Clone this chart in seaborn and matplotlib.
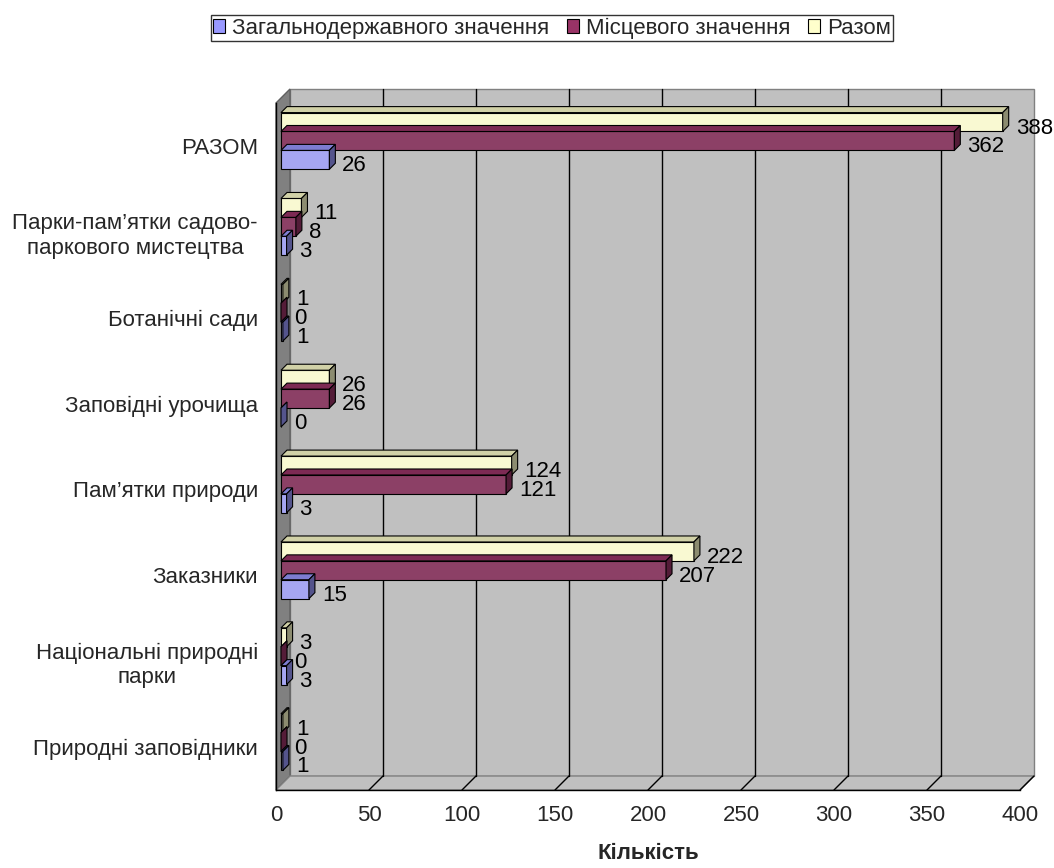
import numpy as np
import pandas as pd
import matplotlib
matplotlib.use("Agg")
import matplotlib.pyplot as plt
import seaborn as sns
from matplotlib.patches import Polygon, Patch
from matplotlib.transforms import IdentityTransform, ScaledTranslation
from matplotlib.ticker import FixedLocator

# ---------------- data ----------------
categories = [
    "РАЗОМ",
    "Парки-пам’ятки садово-\nпаркового мистецтва",
    "Ботанічні сади",
    "Заповідні урочища",
    "Пам’ятки природи",
    "Заказники",
    "Національні природні\nпарки",
    "Природні заповідники",
]
zagalnoderzh = [26, 3, 1, 0, 3, 15, 3, 1]
mistsevogo = [362, 8, 0, 26, 121, 207, 0, 0]
razom = [388, 11, 1, 26, 124, 222, 3, 1]

series_names = ["Загальнодержавного значення", "Місцевого значення", "Разом"]
series_values = [zagalnoderzh, mistsevogo, razom]
series_colors = ["#9999FF", "#993366", "#FFFFCC"]
x_ticks = [0, 50, 100, 150, 200, 250, 300, 350, 400]
x_label = "Кількість"

rows = []
for name, vals in zip(series_names, series_values):
    for c, v in zip(categories, vals):
        rows.append({"cat": c, "series": name, "value": v})
df = pd.DataFrame(rows)

# ---------------- style ----------------
sns.set_style("white")
plt.rcParams["font.family"] = ["Liberation Sans", "DejaVu Sans"]
FS = 16

W, H = 1054, 868
fig = plt.figure(figsize=(W / 100, H / 100), dpi=100)
fig.patch.set_facecolor("white")

# front plane in pixels
FX0, FX1 = 276, 1020
FY_TOP, FY_BOT = 103, 790
ax = fig.add_axes([FX0 / W, (H - FY_BOT) / H, (FX1 - FX0) / W, (FY_BOT - FY_TOP) / H])
ax.patch.set_visible(False)

hue_order = ["Разом", "Місцевого значення", "Загальнодержавного значення"]
pal = dict(zip(series_names, series_colors))
sns.barplot(data=df, y="cat", x="value", hue="series", hue_order=hue_order,
            order=categories, palette=pal, orient="h", width=0.66,
            edgecolor="black", linewidth=0.8, ax=ax, legend=False, zorder=3)

ax.set_xlim(0, 400)
ax.set_ylim(len(categories) - 0.5, -0.5)

DX, DY = 14, 14       # wall depth in px
BD = 6                # bar depth in px
OFF = 5               # bars sit a bit behind the front plane (px)
ident = IdentityTransform()

def P(x, y, d=0.0):
    X, Y = ax.transData.transform((x, y))
    return (X + d * DX, Y + d * DY)

ylo, yhi = len(categories) - 0.5, -0.5
# back wall
back = Polygon([P(0, ylo, 1), P(400, ylo, 1), P(400, yhi, 1), P(0, yhi, 1)],
               closed=True, facecolor="#C0C0C0", edgecolor="#808080", lw=1,
               transform=ident, zorder=0, clip_on=False)
ax.add_patch(back)
# left wall
left = Polygon([P(0, ylo, 0), P(0, yhi, 0), P(0, yhi, 1), P(0, ylo, 1)],
               closed=True, facecolor="#808080", edgecolor="#606060", lw=1,
               transform=ident, zorder=0.5, clip_on=False)
ax.add_patch(left)
# floor
floor = Polygon([P(0, ylo, 0), P(400, ylo, 0), P(400, ylo, 1), P(0, ylo, 1)],
                closed=True, facecolor="#C0C0C0", edgecolor="#808080", lw=1,
                transform=ident, zorder=0.5, clip_on=False)
ax.add_patch(floor)
# gridlines on back wall + floor diagonals
for t in x_ticks:
    if 0 < t < 400:
        a, b = P(t, ylo, 1), P(t, yhi, 1)
        ax.plot([a[0], b[0]], [a[1], b[1]], color="black", lw=1, transform=ident,
                zorder=0.6, clip_on=False)
    if t > 0:
        a, b = P(t, ylo, 0), P(t, ylo, 1)
        ax.plot([a[0], b[0]], [a[1], b[1]], color="black", lw=1, transform=ident,
                zorder=0.6, clip_on=False)

def shade(hexc, f):
    r, g, b = matplotlib.colors.to_rgb(hexc)
    return (r * f, g * f, b * f)

bar_tr = ax.transData + ScaledTranslation(OFF / 100, OFF / 100, fig.dpi_scale_trans)

# 3D faces of bars + labels
for cont, name in zip(ax.containers, hue_order):
    vals = series_values[series_names.index(name)]
    col = pal[name]
    for rect, v in zip(cont.patches, vals):
        rect.set_transform(bar_tr)
        x0, y0 = rect.get_x(), rect.get_y()
        w, h = rect.get_width(), rect.get_height()
        ytop, ybot = y0, y0 + h
        x1 = x0 + w
        def Q(x, y, d=0):
            X, Y = ax.transData.transform((x, y))
            return (X + OFF + d * BD, Y + OFF + d * BD)
        top = Polygon([Q(x0, ytop), Q(x1, ytop), Q(x1, ytop, 1), Q(x0, ytop, 1)],
                      closed=True, facecolor=shade(col, 0.82), edgecolor="black",
                      lw=0.8, transform=ident, zorder=3.5, clip_on=False)
        side = Polygon([Q(x1, ytop), Q(x1, ybot), Q(x1, ybot, 1), Q(x1, ytop, 1)],
                       closed=True, facecolor=shade(col, 0.55), edgecolor="black",
                       lw=0.8, transform=ident, zorder=3.5, clip_on=False)
        ax.add_patch(top)
        ax.add_patch(side)
        ax.annotate(str(v), xy=(x1, y0 + h / 2),
                    xytext=((OFF + BD + 7) * 0.72, (OFF - 6) * 0.72),
                    textcoords="offset points", ha="left", va="center",
                    fontsize=FS, color="black", zorder=5, annotation_clip=False)

# axes, ticks
for s in ["top", "right"]:
    ax.spines[s].set_visible(False)
for s in ["left", "bottom"]:
    ax.spines[s].set_color("black")
    ax.spines[s].set_linewidth(1)
    ax.spines[s].set_zorder(1)

ax.set_xticks(x_ticks)
ax.set_xticklabels([str(t) for t in x_ticks], fontsize=FS)
ax.tick_params(axis="x", direction="out", length=6, width=1, color="black", pad=5)
ax.tick_params(axis="y", which="major", length=0, pad=13, labelsize=FS)
ax.yaxis.set_minor_locator(FixedLocator(np.arange(-0.5, len(categories), 1.0)))
ax.tick_params(axis="y", which="minor", direction="out", length=9, width=1, color="black")
for lab in ax.get_yticklabels():
    lab.set_multialignment("center")
ax.set_ylabel("")
ax.set_xlabel(x_label, fontsize=FS, fontweight="bold", labelpad=12)

# legend
handles = [Patch(facecolor=c, edgecolor="black", lw=0.8) for c in series_colors]
leg = fig.legend(handles, series_names, loc="upper center", ncol=3,
                 bbox_to_anchor=(552 / W, 1 - 15 / H), fontsize=FS,
                 frameon=True, fancybox=False, edgecolor="black",
                 handlelength=0.55, handleheight=0.55, handletextpad=0.3,
                 columnspacing=0.8, borderpad=0.12, borderaxespad=0)
leg.get_frame().set_linewidth(1)

fig.savefig("out.png", dpi=100)
